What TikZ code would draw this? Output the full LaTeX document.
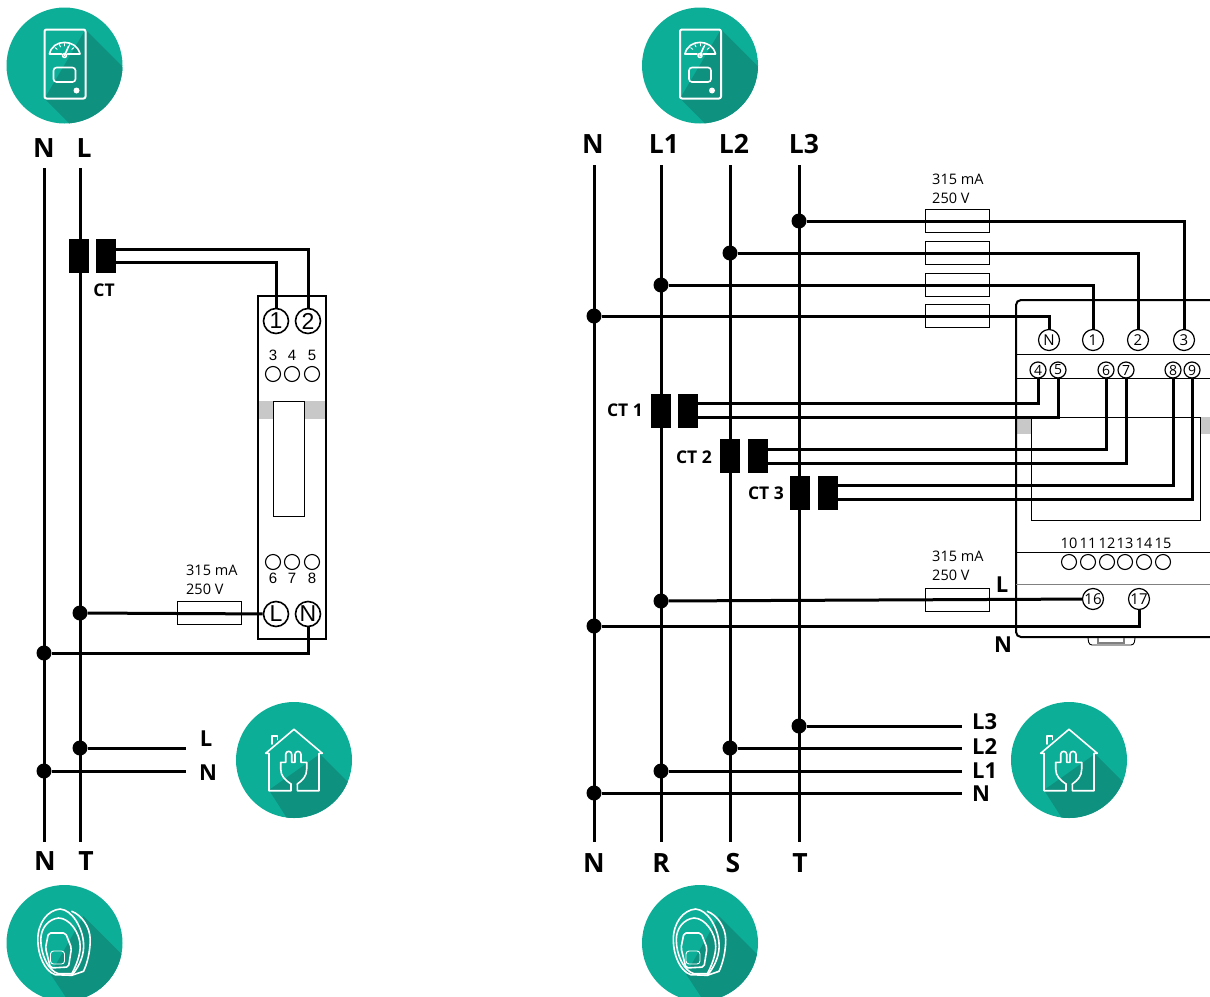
\documentclass[tikz,border=0pt]{standalone}
\usepackage{xcolor}
\usepackage{fontspec}
\setsansfont{Open Sans}
\newfontfamily\devfont{Liberation Sans}
\usetikzlibrary{calc}

\definecolor{iconteal}{HTML}{0DAE97}
\definecolor{iconshade}{HTML}{0F917F}
\definecolor{bandgray}{HTML}{C8C8C8}

\tikzset{
	iconline/.style={draw=white,line width=1.6,line join=round,line cap=round},
	meterpic/.pic={
		\fill[iconteal] (0,0) circle (58);
		\begin{scope}
			\clip (0,0) circle (58);
			\fill[iconshade] (21,-36) -- (101,44) -- (60,113) -- (-20,33) -- cycle;
		\end{scope}
		\draw[iconline,line width=2,rounded corners=2] (-20,-36) rectangle (21,33);
		\draw[iconline] (-15,-11.5) .. controls (-12,-27) and (12,-27) .. (15.5,-11.5) -- (3,-11.5);
		\draw[iconline] (-3,-11.5) -- (-15,-11.5);
		\draw[iconline] (0,-10) -- (4,-19);
		\draw[iconline] (0,-10) circle (2);
		\foreach \a in {-50,-25,0,25,50} {
			\draw[iconline,line width=0.9] ($(0,-10)+(90+\a:-9.5)$) -- ($(0,-10)+(90+\a:-12)$);
		}
		\draw[iconline,rounded corners=3] (-11,2) rectangle (11,16.5);
		\fill[white] (12,25) circle (3);
	},
	housepic/.pic={
		\fill[iconteal] (0,0) circle (58);
		\begin{scope}
			\clip (0,0) circle (58);
			\fill[iconshade] (26,-6) -- (106,74) -- (26,110) -- (-25,30) -- cycle;
		\end{scope}
		\draw[iconline] (-22.3,-16) -- (-22.3,-24.3) -- (-16.7,-24.3) -- (-16.7,-20.5);
		\draw[iconline] (-3,24) -- (-3,30.7) -- (-25,30.7) -- (-25,-6.7) -- (-28.3,-6.7) -- (0,-30.7)
			-- (28.3,-6.7) -- (25,-6.7) -- (25,30.7) -- (3.3,30.7) -- (3.3,24);
		\draw[iconline] (-3,24) .. controls (-9,20) and (-13.3,16) .. (-13.3,9) -- (-13.3,2.3) -- (-8.3,2.3)
			-- (-8.3,-5.7) arc (180:360:3) -- (-2.3,2.3) -- (1,2.3) -- (1,-5.7) arc (180:360:3) -- (7,2.3)
			-- (12.7,2.3) -- (12.7,9) .. controls (12.7,16) and (9,20) .. (3.3,24);
	},
	chargerpic/.pic={
		\fill[iconteal] (0,0) circle (58);
		\begin{scope}
			\clip (0,0) circle (58);
			\fill[iconshade] (19,-27) -- (99,53) -- (40,113) -- (-14,31) -- cycle;
		\end{scope}
		\draw[iconline] (-4.3,-34) .. controls (-17,-33) and (-26.7,-20) .. (-26.7,-3.3) .. controls (-26.7,12) and (-20,28) .. (-9.3,31.7)
			-- (7.3,32.3) .. controls (16,22) and (20,10) .. (19,0) .. controls (18,-15) and (8,-33) .. (-4.3,-34) -- cycle;
		\draw[iconline] (-6,-25) .. controls (-16,-24) and (-23.7,-15) .. (-23.7,-3.3) .. controls (-23.7,12) and (-16,28) .. (-6,30.7)
			-- (7.3,30.7) .. controls (12,22) and (15.7,12) .. (15.7,3.3) .. controls (15.7,-10) and (5,-25) .. (-6,-25) -- cycle;
		\draw[iconline] (7.3,-31.7) .. controls (17,-28) and (25.7,-16) .. (25.7,-3.3) .. controls (25.7,8) and (23,20) .. (19,28.3) -- (7.3,32.3);
		\draw[iconline,rounded corners=2] (-16,-10) -- (1,-10) -- (7,5) -- (4,24) -- (-14,25) -- (-19,5) -- cycle;
		\draw[iconline,line width=0.9,rounded corners=3] (-14,8) rectangle (0,21);
	},
}

\begin{document}
\begin{tikzpicture}[
		x=1pt,
		y=-1pt,
		/utils/exec={\sffamily},
		font=\fontsize{14.5pt}{19pt}\selectfont,
		line cap=butt
	]
		\tikzset{
			wire/.style={draw,line width=3},
			thinline/.style={draw,line width=1},
			dot/.style={circle,fill=black,inner sep=0,minimum size=15},
			fuse/.style={draw,rectangle,line width=1,inner sep=0,minimum width=64,minimum height=23},
			ctblock/.style={rectangle,fill=black,inner sep=0,minimum width=20,minimum height=34},
			bus/.style={font=\fontsize{26.5pt}{26.5pt}\selectfont\bfseries,inner sep=0},
			tag/.style={font=\fontsize{22pt}{22pt}\selectfont\bfseries,inner sep=0},
			cttag/.style={font=\fontsize{17.5pt}{17.5pt}\selectfont\bfseries,inner sep=0},
			fusetag/.style={align=left,anchor=west,inner sep=0},
			bigterm/.style={draw,circle,line width=1.6,inner sep=0,minimum size=25,font=\devfont\fontsize{23pt}{23pt}\selectfont},
			term/.style={draw,circle,line width=1.2,inner sep=0,minimum size=21,font=\fontsize{15pt}{15pt}\selectfont},
			midterm/.style={draw,circle,line width=1.2,inner sep=0,minimum size=16,font=\fontsize{14pt}{14pt}\selectfont},
			hole/.style={draw,circle,line width=1.1,inner sep=0,minimum size=15},
			holetag/.style={inner sep=0,font=\devfont\fontsize{15pt}{15pt}\selectfont},
			rowtag/.style={inner sep=0,font=\fontsize{14.5pt}{14.5pt}\selectfont},
		}

		\useasboundingbox (0,0) rectangle (1210,996);
		\clip (0,0) rectangle (1210,996);

		% icons
		\pic at (64.5,65.5) {meterpic};
		\pic at (700,65.5) {meterpic};
		\pic at (294,760) {housepic};
		\pic at (1069,760) {housepic};
		\pic at (64.5,943) {chargerpic};
		\pic at (700,943) {chargerpic};

		% single phase meter
		\fill[bandgray] (258,401) rectangle (326,419);
		\draw[line width=1.6] (258,296) rectangle (326,639);
		\draw[fill=white,line width=1] (273,401) rectangle (304,516);
		\node[bigterm] (one) at (276,321) {1};
		\node[bigterm] (two) at (308,321) {2};
		\node[bigterm] (lin) at (276,614) {L};
		\node[bigterm] (nin) at (308,614) {N};
		\foreach \num/\xpos in {3/273,4/292,5/312} {
			\node[hole] (hole\num) at (\xpos,374) {};
			\node[holetag] (tag\num) at (\xpos,355) {\num};
		}
		\foreach \num/\xpos in {6/273,7/292,8/312} {
			\node[hole] (hole\num) at (\xpos,562) {};
			\node[holetag] (tag\num) at (\xpos,578) {\num};
		}
		\node[fuse] (fuseA) at (209,613) {};
		\node[fusetag] (fuseAtag) at (186,579.5) {315 mA\\250 V};

		% single phase lines
		\node[bus] (nA) at (44,148) {N};
		\node[bus] (lA) at (84,148) {L};
		\node[bus] (nB) at (45,861) {N};
		\node[bus] (tB) at (86,861) {T};
		\coordinate (nAtop) at (44,168);
		\coordinate (nAend) at (44,842);
		\coordinate (lAtop) at (80,168);
		\coordinate (lAend) at (80,842);
		\draw[wire] (nAtop) -- (nAend);
		\draw[wire] (lAtop) -- (lAend);

		\node[ctblock] (ctA) at (79,256) {};
		\node[ctblock] (ctB) at (106,256) {};
		\node[cttag] (ctAtag) at (104,290) {CT};
		\draw[wire] ($(ctB.east)+(0,-7)$) -| (two);
		\draw[wire] ($(ctB.east)+(0,6)$) -| (one);

		\node[dot] (dotL) at (80,613) {};
		\node[dot] (dotN) at (44,653) {};
		\node[dot] (dotHL) at (80,748) {};
		\node[dot] (dotHN) at (44,771) {};
		\draw[wire] (dotL) -- (lin);
		\draw[wire] (nin) |- (dotN);
		\node[tag] (hL) at (206,739) {L};
		\node[tag] (hN) at (208,773) {N};
		\coordinate (hLend) at (186,748);
		\coordinate (hNend) at (186,771);
		\draw[wire] (dotHL) -- (hLend);
		\draw[wire] (dotHN) -- (hNend);

		% three phase meter
		\fill[bandgray] (1017,417) rectangle (1031,434);
		\fill[bandgray] (1200,417) rectangle (1210,434);
		\draw[line width=2,rounded corners=5] (1210,300) -- (1016,300) -- (1016,637) -- (1210,637);
		\draw[thinline] (1016,354) -- (1210,354);
		\draw[thinline] (1016,378) -- (1210,378);
		\draw[thinline] (1031,417) rectangle (1200,520);
		\draw[thinline] (1016,552) -- (1210,552);
		\draw[thinline,draw=gray] (1016,584) -- (1210,584);
		\draw[line width=0.9,rounded corners=3] (1088,638) -- (1089,645) -- (1134,645) -- (1135,638);
		\draw[line width=1.2,draw=gray] (1098,638) -- (1098,643) -- (1124,643) -- (1124,638);
		\foreach \name/\xpos in {N/1049,1/1093,2/1138,3/1184} {
			\node[term] (top\name) at (\xpos,340) {\name};
		}
		\foreach \name/\xpos in {4/1038,5/1058,6/1106,7/1126,8/1173,9/1192} {
			\node[midterm] (mid\name) at (\xpos,370) {\name};
		}
		\foreach \name/\xpos in {10/1069,11/1088,12/1107,13/1125,14/1144,15/1163} {
			\node[hole] (row\name) at (\xpos,562) {};
			\node[rowtag] (rowtag\name) at (\xpos,543) {\name};
		}
		\node[term] (botA) at (1093,599) {16};
		\node[term] (botB) at (1139,599) {17};
		\node[tag] (mL) at (1002,585) {L};
		\node[tag] (mN) at (1003,645) {N};

		% fuses
		\foreach \name/\ypos in {a/221,b/253,c/285,d/316,e/600} {
			\node[fuse] (fuse\name) at (957,\ypos) {};
		}
		\node[fusetag] (fuseatag) at (932,188.5) {315 mA\\250 V};
		\node[fusetag] (fusebtag) at (932,565.5) {315 mA\\250 V};

		% three phase lines
		\foreach \name/\text/\xtext/\xpos in {N/N/593/594,A/L1/664/661,B/L2/734/730,C/L3/804/799} {
			\node[bus] (top\name lab) at (\xtext,144) {\text};
			\coordinate (bus\name top) at (\xpos,165);
			\coordinate (bus\name end) at (\xpos,842);
			\draw[wire] (bus\name top) -- (bus\name end);
		}
		\foreach \name/\text/\xtext in {N/N/594,R/R/661,S/S/733,T/T/800} {
			\node[bus] (low\name lab) at (\xtext,863) {\text};
		}

		\node[dot] (dotC) at (799,221) {};
		\node[dot] (dotB) at (730,253) {};
		\node[dot] (dotA) at (661,285) {};
		\node[dot] (dotN) at (594,316) {};
		\node[dot] (dotE) at (661,601) {};
		\node[dot] (dotF) at (594,626) {};
		\draw[wire] (dotC) -| (top3);
		\draw[wire] (dotB) -| (top2);
		\draw[wire] (dotA) -| (top1);
		\draw[wire] (dotN) -| (topN);
		\draw[wire] (dotE) -- (botA);
		\draw[wire] (botB) |- (dotF);

		\node[ctblock] (ctC) at (661,411) {};
		\node[ctblock] (ctD) at (688,411) {};
		\node[ctblock] (ctE) at (730,456) {};
		\node[ctblock] (ctF) at (758,456) {};
		\node[ctblock] (ctG) at (800,493) {};
		\node[ctblock] (ctH) at (828,493) {};
		\node[cttag] (ctCtag) at (625,410) {CT 1};
		\node[cttag] (ctEtag) at (694,457) {CT 2};
		\node[cttag] (ctGtag) at (766,493) {CT 3};
		\draw[wire] ($(ctD.east)+(0,-8)$) -| (mid4);
		\draw[wire] ($(ctD.east)+(0,6)$) -| (mid5);
		\draw[wire] ($(ctF.east)+(0,-7)$) -| (mid6);
		\draw[wire] ($(ctF.east)+(0,7)$) -| (mid7);
		\draw[wire] ($(ctH.east)+(0,-8)$) -| (mid8);
		\draw[wire] ($(ctH.east)+(0,6)$) -| (mid9);

		\foreach \name/\text/\xbus/\ypos/\ytag in {C/L3/799/726/722,B/L2/730/748/747,A/L1/661/771/771,N/N/594/793/794} {
			\node[dot] (home\name) at (\xbus,\ypos) {};
			\coordinate (home\name end) at (962,\ypos);
			\draw[wire] (home\name) -- (home\name end);
			\node[tag,anchor=west] (home\name tag) at (972,\ytag) {\text};
		}
\end{tikzpicture}
\end{document}
